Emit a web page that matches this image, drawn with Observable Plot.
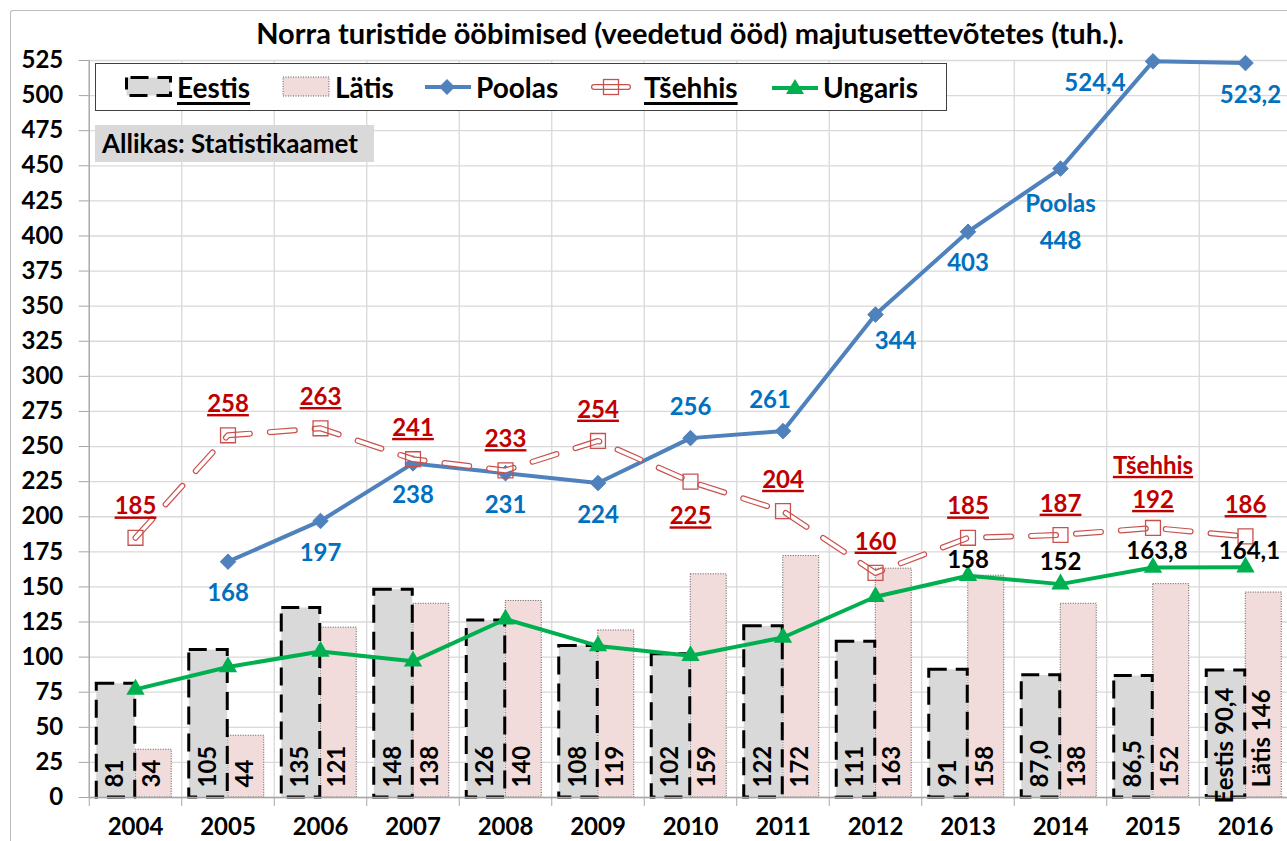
<!DOCTYPE html>
<html>
<head>
<meta charset="utf-8">
<script src="https://cdn.jsdelivr.net/npm/d3@7"></script>
<script src="https://cdn.jsdelivr.net/npm/@observablehq/plot@0.6"></script>
<style>
  html, body { margin: 0; padding: 0; background: #fff; overflow: hidden; }
  #wrap { position: relative; width: 1287px; height: 841px; font-family: Lato, "DejaVu Sans", sans-serif; font-weight: 700; }
  #wrap svg text { font-weight: 700; }
  #chart { position: absolute; left: 0; top: 0; }
  .abs { position: absolute; }
  #border { left: 10px; top: 10px; width: 1400px; height: 1000px; border-left: 1.5px solid #bdbdbd; border-top: 1.5px solid #bdbdbd; border-top-left-radius: 3px; }
  #title { left: 89px; width: 1202px; top: 15px; line-height: 36px; font-size: 29px; text-align: center; color: #000; white-space: nowrap; }
  #legend { left: 95px; top: 63px; width: 850px; height: 46px; border: 1.5px solid #404040; background: #fff; }
  .lt { top: 63px; height: 48px; line-height: 48px; font-size: 28px; color: #000; white-space: nowrap; }
  .ul { text-decoration: underline; text-decoration-thickness: 3px; text-underline-offset: 4px; }
  #source { left: 95px; top: 125px; width: 279px; height: 37px; background: #d9d9d9; font-size: 26px; line-height: 37px; padding-left: 7px; box-sizing: border-box; color: #000; white-space: nowrap; }
</style>
</head>
<body>
<div id="wrap">
  <div id="chart"></div>
  <div id="border" class="abs"></div>
  <div id="title" class="abs"></div>
  <div id="legend" class="abs"></div>
  <div id="source" class="abs"></div>
</div>
<script>
// ---------- data ----------
const years   = [2004, 2005, 2006, 2007, 2008, 2009, 2010, 2011, 2012, 2013, 2014, 2015, 2016];
const eestis  = [81, 105, 135, 148, 126, 108, 102, 122, 111, 91, 87.0, 86.5, 90.4];
const latis   = [34, 44, 121, 138, 140, 119, 159, 172, 163, 158, 138, 152, 146];
const poolas  = [null, 168, 197, 238, 231, 224, 256, 261, 344, 403, 448, 524.4, 523.2];
const tsehhis = [185, 258, 263, 241, 233, 254, 225, 204, 160, 185, 187, 192, 186];
const ungaris = [77, 93, 104, 97, 127, 108, 101, 114, 143, 158, 152, 163.8, 164.1];

const eestisLabels  = ["81", "105", "135", "148", "126", "108", "102", "122", "111", "91", "87,0", "86,5", "Eestis 90,4"];
const latisLabels   = ["34", "44", "121", "138", "140", "119", "159", "172", "163", "158", "138", "152", "Lätis 146"];
const poolasLabels  = ["", "168", "197", "238", "231", "224", "256", "261", "344", "403", "Poolas\n448", "524,4", "523,2"];
const tsehhisLabels = ["185", "258", "263", "241", "233", "254", "225", "204", "160", "185", "187", "Tšehhis\n192", "186"];
const ungarisLabels = ["", "", "", "", "", "", "", "", "", "158", "152", "163,8", "164,1"];

const yTicks = d3.range(0, 526, 25);
const seriesNames = ["Eestis", "Lätis", "Poolas", "Tšehhis", "Ungaris"];
const titleText = "Norra turistide ööbimised (veedetud ööd) majutusettevõtetes (tuh.).";
const sourceText = "Allikas: Statistikaamet";

// ---------- styles ----------
const C = {
  grid: "#d9d9d9", axis: "#a6a6a6",
  eFill: "#d9d9d9", lFill: "#f2dcdb", lStroke: "#595959",
  poolas: "#4f81bd", poolasText: "#0070c0",
  tsehhis: "#c9504d", tsehhisText: "#c00000",
  ungaris: "#00b050"
};

const rows = years.map((year, i) => ({
  year, eestis: eestis[i], latis: latis[i], poolas: poolas[i], tsehhis: tsehhis[i], ungaris: ungaris[i],
  eL: eestisLabels[i], lL: latisLabels[i], pL: poolasLabels[i], tL: tsehhisLabels[i], uL: ungarisLabels[i]
}));
const sel = (ys) => rows.filter(d => ys.includes(d.year));

const W = 1287, H = 841;
const left = 88.75, step = 92.5, half = step / 2;
const FS = 24;

const pStyle = {x: "year", y: "poolas", text: "pL", fill: C.poolasText, fontSize: FS, fontWeight: "bold"};
const tStyle = {x: "year", y: "tsehhis", text: "tL", fill: C.tsehhisText, fontSize: FS, fontWeight: "bold"};
const uStyle = {x: "year", y: "ungaris", text: "uL", fill: "#000", fontSize: FS, fontWeight: "bold"};
const barText = {frameAnchor: "bottom", rotate: -90, textAnchor: "start", fill: "#000", fontSize: FS, fontWeight: "bold"};

const chart = Plot.plot({
  width: W, height: H,
  marginLeft: left, marginRight: 0, marginTop: 60, marginBottom: 44,
  style: {fontFamily: "Lato, 'DejaVu Sans', sans-serif", background: "transparent", overflow: "visible"},
  x: {type: "band", domain: years, range: [left, left + step * years.length], padding: 0, round: false, label: null},
  y: {domain: [0, 525], range: [797, 60], label: null},
  marks: [
    Plot.gridY(yTicks, {stroke: C.grid, strokeOpacity: 1, strokeWidth: 1.3}),
    Plot.gridX(years, {dx: -half, stroke: C.grid, strokeOpacity: 1, strokeWidth: 1.3}),
    Plot.ruleX([years[0]], {dx: -half, stroke: C.axis, strokeWidth: 1.3}),
    Plot.axisY({ticks: yTicks, tickSize: 10, tickPadding: 16, stroke: C.axis, fill: "#000", fontSize: FS, fontWeight: "bold", tickFormat: d => String(d), label: null}),
    Plot.axisX({tickSize: 9, tickFormat: () => "", dx: -half, stroke: C.axis, label: null}),
    Plot.axisX({tickSize: 0, tickPadding: 20, fill: "#000", fontSize: FS, fontWeight: "bold", tickFormat: d => String(d), label: null}),
    // bars
    Plot.barY(rows, {x: "year", y: "latis", insetLeft: 46.5, insetRight: 10, fill: C.lFill, stroke: C.lStroke, strokeWidth: 1, strokeDasharray: "1,1.5"}),
    Plot.barY(rows, {x: "year", y: "eestis", insetLeft: 7.5, insetRight: 46.5, fill: C.eFill, stroke: "#000", strokeWidth: 3, strokeDasharray: "18,9"}),
    Plot.ruleY([0], {stroke: C.axis, strokeWidth: 1.3}),
    // Poolas
    Plot.line(rows, {x: "year", y: "poolas", stroke: C.poolas, strokeWidth: 4, strokeLinejoin: "round"}),
    Plot.dot(rows, {x: "year", y: "poolas", symbol: "diamond2", r: 7, fill: C.poolas, stroke: C.poolas, strokeWidth: 1}),
    // Tšehhis (double dashed line)
    Plot.line(rows, {x: "year", y: "tsehhis", stroke: C.tsehhis, strokeWidth: 6, strokeDasharray: "25,20", strokeLinecap: "round"}),
    Plot.line(rows, {x: "year", y: "tsehhis", stroke: "#fff", strokeWidth: 3.6, strokeDasharray: "25,20", strokeLinecap: "round"}),
    Plot.dot(rows, {x: "year", y: "tsehhis", symbol: "square", r: 8.4, fill: "none", stroke: C.tsehhis, strokeWidth: 1.3}),
    // Ungaris
    Plot.line(rows, {x: "year", y: "ungaris", stroke: C.ungaris, strokeWidth: 4, strokeLinejoin: "round"}),
    Plot.dot(rows, {x: "year", y: "ungaris", symbol: "triangle", r: 6.8, fill: C.ungaris}),
    // bar labels
    Plot.text(rows.filter(d => d.year !== 2016), {x: "year", text: "eL", dx: -12.5, dy: -10, ...barText}),
    Plot.text(sel([2016]), {x: "year", text: "eL", dx: -12.5, dy: 6, ...barText}),
    Plot.text(rows, {x: "year", text: "lL", dx: 24.5, dy: -10, ...barText}),
    // Poolas labels
    Plot.text(sel([2005, 2006, 2007, 2008, 2009, 2013]), {...pStyle, dy: 32}),
    Plot.text(sel([2016]), {...pStyle, dx: 5, dy: 32}),
    Plot.text(sel([2010]), {...pStyle, dy: -31}),
    Plot.text(sel([2011]), {...pStyle, dx: -13, dy: -31}),
    Plot.text(sel([2012]), {...pStyle, dx: 20, dy: 27}),
    Plot.text(sel([2014]), {...pStyle, dy: 50, lineHeight: 1.55}),
    Plot.text(sel([2015]), {...pStyle, dx: -58, dy: 22}),
    // Tšehhis labels
    Plot.text(rows.filter(d => d.year !== 2010 && d.year !== 2015), {...tStyle, dy: -31}),
    Plot.text(sel([2010]), {...tStyle, dy: 35}),
    Plot.text(sel([2015]), {...tStyle, dy: -48, lineHeight: 1.42}),
    // Ungaris labels
    Plot.text(sel([2013]), {...uStyle, dy: -15}),
    Plot.text(sel([2014]), {...uStyle, dy: -22}),
    Plot.text(sel([2015, 2016]), {...uStyle, dx: 4, dy: -16})
  ]
});
document.getElementById("chart").appendChild(chart);

// underline Tšehhis labels
chart.querySelectorAll('g[fill="#c00000"] text').forEach(t => {
  t.style.textDecoration = "underline";
  t.style.textDecorationThickness = "3px";
});

// ---------- title, source ----------
document.getElementById("title").textContent = titleText;
document.getElementById("source").textContent = sourceText;

// ---------- legend ----------
const wrap = document.getElementById("wrap");
function swatch(x, y, w, h, inner) {
  const s = document.createElementNS("http://www.w3.org/2000/svg", "svg");
  s.setAttribute("width", w); s.setAttribute("height", h);
  s.setAttribute("class", "abs");
  s.style.left = x + "px"; s.style.top = y + "px";
  s.innerHTML = inner;
  wrap.appendChild(s);
}
function label(x, text, underline) {
  const d = document.createElement("div");
  d.className = "abs lt" + (underline ? " ul" : "");
  d.style.left = x + "px";
  d.textContent = text;
  wrap.appendChild(d);
}
swatch(124, 75, 50, 24, `<rect x="2.5" y="2.5" width="44" height="18" fill="${C.eFill}" stroke="#000" stroke-width="3" stroke-dasharray="18,9" stroke-dashoffset="-4"/>`);
label(177, seriesNames[0], true);
swatch(282, 76, 48, 22, `<rect x="1" y="1" width="46" height="19" fill="${C.lFill}" stroke="${C.lStroke}" stroke-width="1" stroke-dasharray="1,1.5"/>`);
label(335, seriesNames[1], false);
swatch(424, 76, 48, 22, `<line x1="1" y1="11" x2="47" y2="11" stroke="${C.poolas}" stroke-width="4"/><path d="M23,3 L31,11 L23,19 L15,11 Z" fill="${C.poolas}"/>`);
label(476, seriesNames[2], false);
swatch(590, 76, 42, 22, `<line x1="4" y1="11" x2="38" y2="11" stroke="${C.tsehhis}" stroke-width="6" stroke-linecap="round"/><line x1="4" y1="11" x2="38" y2="11" stroke="#fff" stroke-width="3.6" stroke-linecap="round"/><rect x="13.5" y="3.5" width="15" height="15" fill="none" stroke="${C.tsehhis}" stroke-width="1.3"/>`);
label(644, seriesNames[3], true);
swatch(771, 76, 48, 22, `<line x1="1" y1="12" x2="47" y2="12" stroke="${C.ungaris}" stroke-width="4"/><path d="M24,3 L33,18 L15,18 Z" fill="${C.ungaris}"/>`);
label(823, seriesNames[4], false);
</script>
</body>
</html>
